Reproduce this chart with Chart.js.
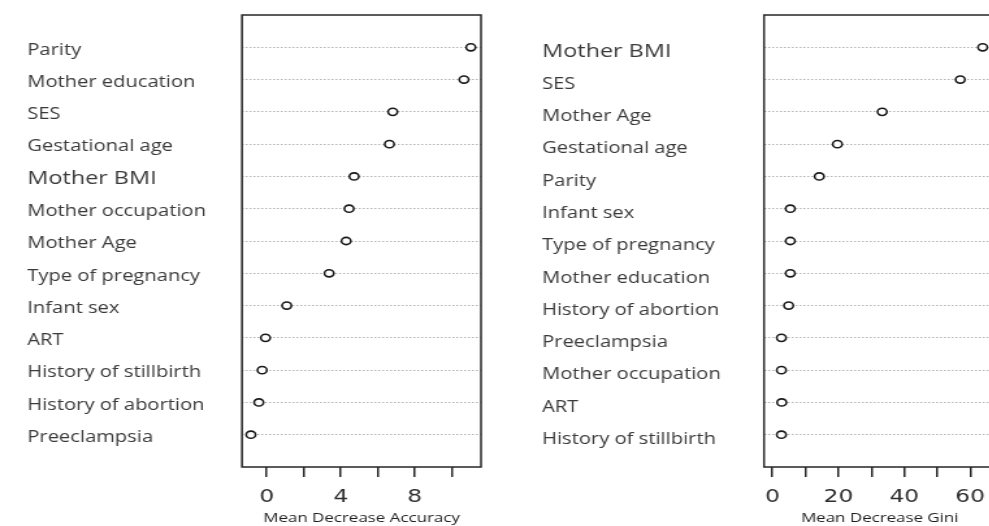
<!DOCTYPE html>
<html>
<head>
<meta charset="utf-8">
<script src="https://cdn.jsdelivr.net/npm/chart.js@4/dist/chart.umd.min.js"></script>
<style>
  html, body { margin: 0; padding: 0; background: #fff; }
  body { width: 989px; height: 526px; overflow: hidden; position: relative; }
  .panel { position: absolute; top: 0; height: 526px; transform-origin: 0 0; }
  #panelAcc { left: 0; }
  #panelGini { left: 520px; }
</style>
</head>
<body>
<div class="panel" id="panelAcc"><canvas id="accChart" width="385" height="526"></canvas></div>
<div class="panel" id="panelGini"><canvas id="giniChart" width="371" height="526"></canvas></div>
<script>
// Variable importance from the random forest model
const accuracyVariables = ['Parity', 'Mother education', 'SES', 'Gestational age', 'Mother BMI',
  'Mother occupation', 'Mother Age', 'Type of pregnancy', 'Infant sex', 'ART',
  'History of stillbirth', 'History of abortion', 'Preeclampsia'];
const accuracyValues = [11.03, 10.66, 6.81, 6.63, 4.72, 4.45, 4.29, 3.37, 1.08, -0.07, -0.25, -0.43, -0.86];

const giniVariables = ['Mother BMI', 'SES', 'Mother Age', 'Gestational age', 'Parity', 'Infant sex',
  'Type of pregnancy', 'Mother education', 'History of abortion', 'Preeclampsia',
  'Mother occupation', 'ART', 'History of stillbirth'];
const giniValues = [63.8, 57.0, 33.3, 19.7, 14.2, 5.4, 5.4, 5.4, 4.9, 2.7, 2.7, 2.8, 2.7];

const accuracyTicks = [0, 2, 4, 6, 8, 10];
const accuracyTickLabels = ['0', '', '4', '', '8', ''];
const giniTicks = [0, 10, 20, 30, 40, 50, 60];
const giniTickLabels = ['0', '', '20', '', '40', '', '60'];

// the figure is printed wider than tall, so each canvas is stretched horizontally
const STRETCH = 1.3;
document.querySelectorAll('.panel').forEach(p => { p.style.transform = 'scaleX(' + STRETCH + ')'; });

// closed box around the plotting region
const framePlugin = {
  id: 'frame',
  afterDatasetsDraw(chart) {
    const { ctx, chartArea: a } = chart;
    ctx.save();
    ctx.strokeStyle = '#262626';
    ctx.lineWidth = 1.5;
    ctx.strokeRect(a.left, a.top, a.right - a.left, a.bottom - a.top);
    ctx.restore();
  }
};

// labelShift: how far (in row units) the variable names sit below their dotted lines
function dotChart(canvasId, names, values, ticks, tickLabels, xMin, xMax, title, layoutPad, axisWidth, labelShift) {
  const points = values.map((v, i) => ({ x: v, y: i + 1 }));
  const rows = names.length + 1;
  const labelFont = ctx => {
    const big = ctx && ctx.tick && names[ctx.tick.value - 1] === 'Mother BMI';
    return { family: 'Open Sans', size: big ? 18 : 15.5 };
  };
  const rowTicks = scale => { scale.ticks = names.map((_, i) => ({ value: i + 1 })); };
  return new Chart(document.getElementById(canvasId), {
    type: 'scatter',
    data: {
      datasets: [{
        data: points,
        pointStyle: 'circle',
        pointRadius: 3.6,
        pointHoverRadius: 3.6,
        pointBorderWidth: 1.6,
        pointBorderColor: '#1a1a1a',
        pointBackgroundColor: '#ffffff'
      }]
    },
    options: {
      responsive: false,
      animation: false,
      events: [],
      layout: { padding: layoutPad },
      plugins: { legend: { display: false }, tooltip: { enabled: false } },
      scales: {
        x: {
          type: 'linear',
          min: xMin,
          max: xMax,
          afterBuildTicks(scale) { scale.ticks = ticks.map(v => ({ value: v })); },
          afterFit(scale) { scale.height = 59; },
          grid: { drawOnChartArea: false, drawTicks: true, tickLength: 10, color: '#262626', lineWidth: 1.5 },
          border: { display: false },
          ticks: {
            autoSkip: false, maxRotation: 0, padding: 10, color: '#2e2e2e',
            font: { family: 'DejaVu Sans', size: 18 },
            callback: (v, i) => tickLabels[i]
          },
          title: {
            display: true, text: title, color: '#1e1e1e',
            font: { family: 'Open Sans', size: 13 },
            padding: { top: 0, bottom: 0 }
          }
        },
        // rows with their dotted guide lines
        y: {
          type: 'linear',
          position: 'left',
          min: 0,
          max: rows,
          reverse: true,
          afterBuildTicks: rowTicks,
          afterFit(scale) { scale.width = 0; },
          grid: { color: '#b4b4b4', lineWidth: 1, drawTicks: false },
          border: { display: false, dash: [1.5, 1.5] },
          ticks: { display: false }
        },
        // variable names
        names: {
          type: 'linear',
          position: 'left',
          min: -labelShift,
          max: rows - labelShift,
          reverse: true,
          afterBuildTicks: rowTicks,
          afterFit(scale) { scale.width = axisWidth; },
          grid: { display: false, drawTicks: false },
          border: { display: false },
          ticks: {
            autoSkip: false, crossAlign: 'far', padding: 0, color: '#3a3a3a',
            font: labelFont,
            callback: v => names[v - 1]
          }
        }
      }
    },
    plugins: [framePlugin]
  });
}

dotChart('accChart', accuracyVariables, accuracyValues, accuracyTicks, accuracyTickLabels,
  -1.34, 11.58, 'Mean Decrease Accuracy',
  { top: 15, left: 21, right: 385 - 481 / STRETCH, bottom: 0 }, 242 / STRETCH - 21, 0.09);

dotChart('giniChart', giniVariables, giniValues, giniTicks, giniTickLabels,
  -2.58, 67.7, 'Mean Decrease Gini',
  { top: 15, left: 17, right: 371 - 481 / STRETCH, bottom: 0 }, 244 / STRETCH - 17, 0.15);
</script>
</body>
</html>
